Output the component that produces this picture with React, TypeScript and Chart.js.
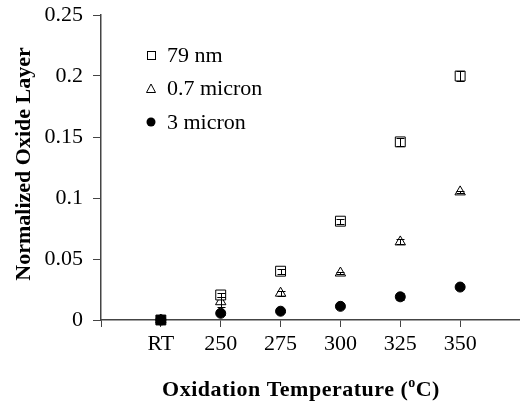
import React, { useEffect, useRef } from "react";
import { Chart, registerables } from "chart.js";

Chart.register(...registerables);

// Category positions on the temperature axis (RT = room temperature)
const tempLabels = ["", "RT", "250", "275", "300", "325", "350", ""];
const xPositions = [1, 2, 3, 4, 5, 6];

// Normalized oxide layer thickness per particle size
const nm79 = [0.0, 0.0205, 0.040, 0.081, 0.146, 0.2];
const nm79Err = [0.002, 0.002, 0.002, 0.002, 0.003, 0.004];
const micron07 = [0.0, 0.015, 0.022, 0.0385, 0.064, 0.105];
const micron07Err = [0.001, 0.004, 0.002, 0.001, 0.002, 0.001];
const micron3 = [0.0, 0.0055, 0.0072, 0.0112, 0.019, 0.027];
const micron3Err = [0.001, 0.001, 0.001, 0.001, 0.003, 0.001];

const yTicks = [0, 0.05, 0.1, 0.15, 0.2, 0.25];

const SERIF = "'Liberation Serif', 'Times New Roman', serif";
const AXIS_COLOR = "#444";

const errorBars = {
  id: "errorBars",
  afterDatasetsDraw(chart: any) {
    const { ctx } = chart;
    const y = chart.scales.y;
    chart.data.datasets.forEach((ds: any, i: number) => {
      const meta = chart.getDatasetMeta(i);
      if (!ds.errors) return;
      ctx.save();
      ctx.strokeStyle = "#000";
      ctx.lineWidth = 1;
      meta.data.forEach((pt: any, j: number) => {
        const v = ds.data[j].y;
        const e = ds.errors[j];
        const top = Math.round(y.getPixelForValue(v + e)) + 0.5;
        const bot = Math.round(y.getPixelForValue(v - e)) + 0.5;
        const x = Math.round(pt.x) + 0.5;
        ctx.beginPath();
        ctx.moveTo(x, top);
        ctx.lineTo(x, bot);
        ctx.moveTo(x - 4, top);
        ctx.lineTo(x + 4, top);
        ctx.moveTo(x - 4, bot);
        ctx.lineTo(x + 4, bot);
        ctx.stroke();
      });
      ctx.restore();
    });
  },
};

const titlesAndLegend = {
  id: "titlesAndLegend",
  afterDraw(chart: any) {
    const { ctx } = chart;
    ctx.save();
    ctx.fillStyle = "#000";
    // y axis title
    ctx.font = `bold 22px ${SERIF}`;
    ctx.textAlign = "center";
    ctx.textBaseline = "middle";
    ctx.save();
    ctx.translate(24, 164);
    ctx.rotate(-Math.PI / 2);
    ctx.fillText("Normalized Oxide Layer", 0, 0);
    ctx.restore();

    // x axis title with superscript degree
    const part1 = "Oxidation Temperature (";
    const sup = "o";
    const part2 = "C)";
    (ctx as any).letterSpacing = "0.5px";
    ctx.font = `bold 22px ${SERIF}`;
    const w1 = ctx.measureText(part1).width;
    const w3 = ctx.measureText(part2).width;
    ctx.font = `bold 14px ${SERIF}`;
    const w2 = ctx.measureText(sup).width;
    const total = w1 + w2 + w3;
    let x = 301 - total / 2;
    const baseY = 396;
    ctx.textAlign = "left";
    ctx.textBaseline = "alphabetic";
    ctx.font = `bold 22px ${SERIF}`;
    ctx.fillText(part1, x, baseY);
    x += w1;
    ctx.font = `bold 14px ${SERIF}`;
    ctx.fillText(sup, x, baseY - 9);
    x += w2;
    ctx.font = `bold 22px ${SERIF}`;
    ctx.fillText(part2, x, baseY);
    (ctx as any).letterSpacing = "0px";

    // legend inside plot area
    const items = chart.data.datasets;
    ctx.font = `22px ${SERIF}`;
    ctx.textBaseline = "middle";
    items.forEach((ds: any, i: number) => {
      const cy = 55 + i * 33.5;
      const cx = 151;
      ctx.strokeStyle = "#000";
      ctx.fillStyle = "#000";
      ctx.lineWidth = 1;
      if (ds.pointStyle === "rect") {
        ctx.strokeRect(cx - 3.5, cy - 3.5, 8, 8);
      } else if (ds.pointStyle === "triangle") {
        ctx.beginPath();
        ctx.moveTo(cx, cy - 4.5);
        ctx.lineTo(cx + 4.5, cy + 4);
        ctx.lineTo(cx - 4.5, cy + 4);
        ctx.closePath();
        ctx.stroke();
      } else {
        ctx.beginPath();
        ctx.arc(cx, cy, 4.5, 0, Math.PI * 2);
        ctx.fill();
      }
      ctx.fillStyle = "#000";
      ctx.fillText(ds.label, 167, cy + 1);
    });
    ctx.restore();
  },
};

export default function App() {
  const canvasRef = useRef<HTMLCanvasElement | null>(null);

  useEffect(() => {
    document.body.style.margin = "0";
    const canvas = canvasRef.current;
    if (!canvas) return;
    const toPoints = (arr: number[]) => arr.map((v, i) => ({ x: xPositions[i], y: v }));
    const chart = new Chart(canvas, {
      type: "scatter",
      data: {
        datasets: [
          {
            label: "79 nm",
            data: toPoints(nm79),
            errors: nm79Err,
            pointStyle: "rect",
            pointRadius: 7,
            backgroundColor: ["#000", "#fff", "#fff", "#fff", "#fff", "#fff"],
            borderColor: "#000",
            borderWidth: 1,
            clip: false,
          } as any,
          {
            label: "0.7 micron",
            data: toPoints(micron07),
            errors: micron07Err,
            pointStyle: "triangle",
            pointRadius: 6,
            backgroundColor: "#fff",
            borderColor: "#000",
            borderWidth: 1,
            clip: false,
          } as any,
          {
            label: "3 micron",
            data: toPoints(micron3),
            errors: micron3Err,
            pointStyle: "circle",
            pointRadius: 5,
            backgroundColor: "#000",
            borderColor: "#000",
            borderWidth: 1,
            clip: false,
          } as any,
        ],
      },
      options: {
        responsive: false,
        animation: false,
        layout: { autoPadding: false, padding: { top: 15, right: 0, bottom: 0, left: 0 } },
        plugins: {
          legend: { display: false },
          tooltip: { enabled: false },
        },
        scales: {
          x: {
            type: "linear",
            min: 0,
            max: 7,
            afterFit(scale: any) {
              scale.height = 84;
              scale.paddingLeft = 0;
              scale.paddingRight = 0;
            },
            afterBuildTicks(scale: any) {
              scale.ticks = tempLabels.map((_, i) => ({ value: i }));
            },
            ticks: {
              autoSkip: false,
              maxRotation: 0,
              color: "#000",
              font: { family: SERIF, size: 22 },
              padding: 4,
              callback: (v: any) => tempLabels[Math.round(Number(v))] ?? "",
            },
            grid: {
              drawOnChartArea: false,
              drawTicks: true,
              tickLength: 7,
              color: AXIS_COLOR,
            },
            border: { color: AXIS_COLOR, width: 1.5 },
          },
          y: {
            min: 0,
            max: 0.25,
            afterFit(scale: any) {
              scale.width = 101;
              scale.paddingTop = 0;
              scale.paddingBottom = 0;
            },
            afterBuildTicks(scale: any) {
              scale.ticks = yTicks.map((v) => ({ value: v }));
            },
            ticks: {
              color: "#000",
              font: { family: SERIF, size: 22 },
              padding: 10,
              callback: (v: any) => String(Number(v)),
            },
            grid: {
              drawOnChartArea: false,
              drawTicks: true,
              tickLength: 8,
              color: AXIS_COLOR,
            },
            border: { color: AXIS_COLOR, width: 1.5 },
          },
        },
      } as any,
      plugins: [errorBars, titlesAndLegend],
    });
    return () => chart.destroy();
  }, []);

  return (
    <div style={{ width: 520, height: 404, background: "#fff" }}>
      <canvas ref={canvasRef} width={520} height={404} style={{ display: "block" }} />
    </div>
  );
}
